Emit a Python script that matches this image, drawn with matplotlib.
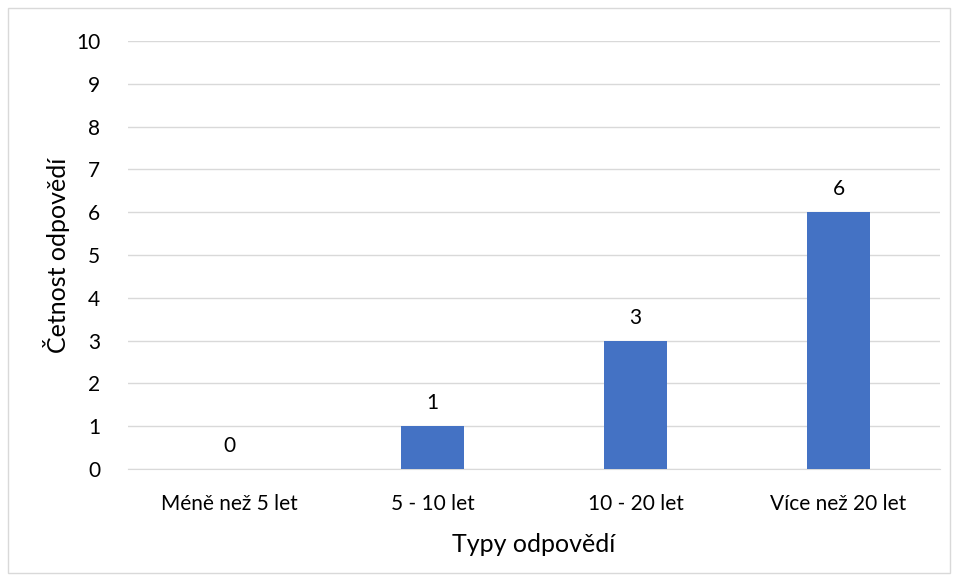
import matplotlib.pyplot as plt
from matplotlib.patches import Rectangle

categories = ["Méně než 5 let", "5 - 10 let", "10 - 20 let", "Více než 20 let"]
counts = [0, 1, 3, 6]
y_ticks = list(range(0, 11))

plt.rcParams['font.family'] = ['Lato', 'DejaVu Sans']

fig = plt.figure(figsize=(9.56, 5.81), dpi=100)
ax = fig.add_axes([128 / 956, 1 - 469 / 581, 812 / 956, 428 / 581])

x = range(len(categories))
bars = ax.bar(x, counts, width=0.31, color='#4472C4', zorder=3)
for xi, v in zip(x, counts):
    ax.text(xi, v + 0.3, str(v), ha='center', va='bottom', fontsize=15, color='#000000')

ax.set_xlim(-0.5, len(categories) - 0.5)
ax.set_ylim(0, 10)
ax.set_yticks(y_ticks)
ax.set_xticks(list(x))
ax.set_xticklabels(categories)
ax.tick_params(axis='both', length=0, labelsize=15, colors='#000000')
ax.tick_params(axis='y', pad=20)
ax.tick_params(axis='x', pad=18)
ax.grid(axis='y', color='#D9D9D9', linewidth=1, zorder=0)
for side in ['top', 'right', 'left']:
    ax.spines[side].set_visible(False)
ax.spines['bottom'].set_color('#D9D9D9')

ax.set_xlabel("Typy odpovědí", fontsize=18, labelpad=14)
ax.set_ylabel("Četnost odpovědí", fontsize=18, labelpad=4)

fig.patches.append(Rectangle((8 / 956, 8 / 581), 942 / 956, 1 - 16 / 581,
                             transform=fig.transFigure, fill=False,
                             edgecolor='#D9D9D9', linewidth=1))

fig.savefig('out.png', dpi=100)
